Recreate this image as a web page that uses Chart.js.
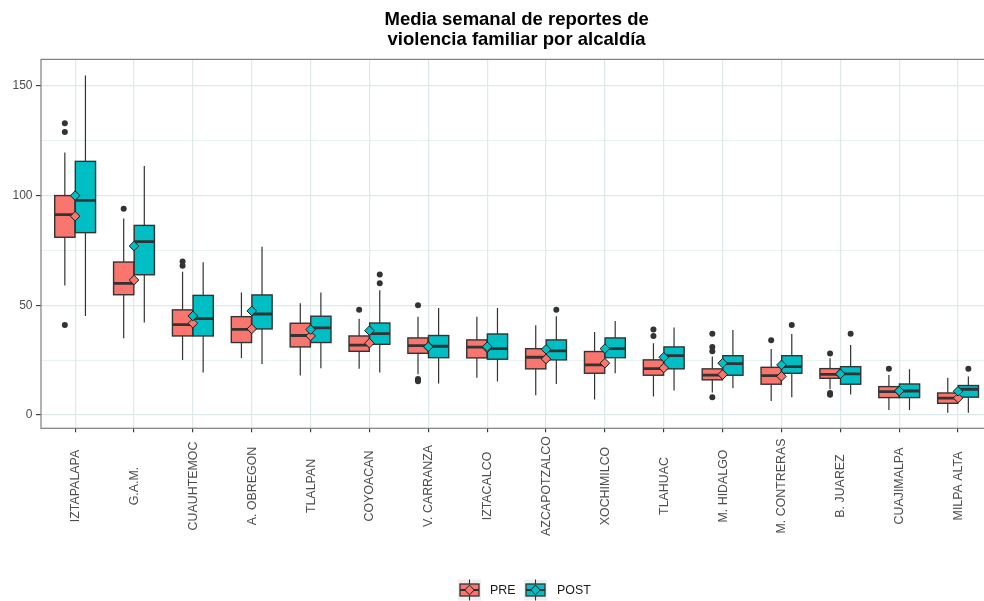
<!DOCTYPE html>
<html>
<head>
<meta charset="utf-8">
<script src="https://cdn.jsdelivr.net/npm/chart.js@4.4.1/dist/chart.umd.min.js"></script>
<style>
  html, body { margin: 0; padding: 0; background: #ffffff; overflow: hidden; }
  #wrap { width: 998px; height: 601px; }
</style>
</head>
<body>
<div id="wrap"><canvas id="boxChart" width="998" height="601"></canvas></div>
<script>
const categories = ['IZTAPALAPA', 'G.A.M.', 'CUAUHTEMOC', 'A. OBREGON', 'TLALPAN', 'COYOACAN',
  'V. CARRANZA', 'IZTACALCO', 'AZCAPOTZALCO', 'XOCHIMILCO', 'TLAHUAC', 'M. HIDALGO',
  'M. CONTRERAS', 'B. JUAREZ', 'CUAJIMALPA', 'MILPA ALTA'];

// PRE period: whisker ends, quartiles, median, mean, outliers
const preLow    = [59, 35, 25, 26, 18, 21, 18.5, 17, 9, 7, 8.4, 10.2, 6.4, 11.7, 2.3, 1];
const preQ1     = [81, 54.8, 36, 33, 31, 29, 28.1, 26, 21, 19, 18.1, 16, 14, 16.7, 7.9, 5.3];
const preMedian = [91.3, 60, 41.2, 39, 36.2, 31.8, 31.6, 30.9, 26.3, 22.8, 21.1, 18.1, 17.9, 18.5, 10.6, 7.7];
const preQ3     = [100, 69.7, 47.9, 44.8, 41.8, 36, 35.1, 34.2, 30.2, 28.9, 25.1, 21, 21.7, 21.1, 12.9, 10];
const preHigh   = [119.6, 89.6, 65.3, 55.8, 50.9, 43.9, 44.8, 44.8, 40.9, 37.8, 32.7, 26.6, 30, 25.8, 18.2, 16.9];
const preMean   = [90.6, 61.5, 41.8, 39.2, 36, 32.7, 31.1, 30.6, 25.5, 23.6, 21.4, 18.4, 17.6, 18.7, 10.9, 7.7];
const preOutliers = [[133, 129, 41], [94], [70, 68], [], [], [48], [50, 16.4, 15.9, 15.4], [], [], [],
  [39, 36], [37, 31, 29, 8], [34], [28, 10, 9.2], [21], []];

// POST period
const postLow    = [45.1, 42.1, 19.3, 23.2, 21.3, 19.3, 14.3, 15.2, 14.1, 19, 11.1, 12.2, 8.1, 9.3, 2.3, 1];
const postQ1     = [83.1, 63.9, 36, 39.2, 33, 32.2, 26.1, 25.4, 25.1, 26.1, 21, 18.1, 19, 14, 7.9, 8.1];
const postMedian = [97.8, 79, 43.9, 46, 39.7, 37.1, 31.3, 30.2, 29.2, 30.2, 27, 23.4, 22, 18.7, 10.9, 11.7];
const postQ3     = [115.6, 86.4, 54.5, 54.7, 45, 41.9, 36.2, 36.9, 34.2, 35.1, 31, 27, 27, 22, 14.1, 13.4];
const postHigh   = [154.7, 113.5, 69.6, 76.7, 55.8, 56.8, 48.8, 48.8, 45, 42.8, 39.8, 38.7, 36.9, 31.9, 20.8, 17.5];
const postMean   = [100, 77, 45.1, 47.4, 38.9, 38.4, 31.1, 31.1, 29.9, 30.2, 26.3, 23.6, 22.8, 18.7, 10.9, 10.8];
const postOutliers = [[], [], [], [], [], [64, 60], [], [], [48], [], [], [], [41], [37], [], [21]];

const yTicks = [0, 25, 50, 75, 100, 125, 150];
const seriesNames = ['PRE', 'POST'];

const PRE_COLOR = '#F8766D';
const POST_COLOR = '#00BFC4';
const INK = '#333333';
const GRID = '#dceae9';
const DODGE = 0.175;   // shift of each box from the category centre
const HALF = 0.172;    // half box width, in category units

const groups = [
  { name: 'PRE', color: PRE_COLOR, shift: -DODGE, low: preLow, q1: preQ1, med: preMedian, q3: preQ3, high: preHigh, out: preOutliers },
  { name: 'POST', color: POST_COLOR, shift: DODGE, low: postLow, q1: postQ1, med: postMedian, q3: postQ3, high: postHigh, out: postOutliers }
];

Chart.defaults.font.family = '"Liberation Sans", Arial, sans-serif';

function seg(ctx, x1, y1, x2, y2) {
  ctx.beginPath();
  ctx.moveTo(x1, y1);
  ctx.lineTo(x2, y2);
  ctx.stroke();
}

function drawKey(ctx, cx, cy, fill) {
  ctx.fillStyle = '#eeeeee';
  ctx.fillRect(cx - 11.5, cy - 10.5, 23, 21);
  ctx.strokeStyle = INK;
  ctx.lineWidth = 1.1;
  seg(ctx, cx, cy - 10.5, cx, cy - 6);
  seg(ctx, cx, cy + 6, cx, cy + 10.5);
  ctx.fillStyle = fill;
  ctx.fillRect(cx - 9.5, cy - 6, 19, 12);
  ctx.lineWidth = 1.3;
  ctx.strokeRect(cx - 9.5, cy - 6, 19, 12);
  ctx.lineWidth = 2;
  seg(ctx, cx - 9.5, cy, cx + 9.5, cy);
  ctx.beginPath();
  ctx.moveTo(cx, cy - 4.8);
  ctx.lineTo(cx + 4.8, cy);
  ctx.lineTo(cx, cy + 4.8);
  ctx.lineTo(cx - 4.8, cy);
  ctx.closePath();
  ctx.fillStyle = fill;
  ctx.fill();
  ctx.strokeStyle = '#1a1a1a';
  ctx.lineWidth = 1;
  ctx.stroke();
}

const boxPlugin = {
  id: 'boxes',
  beforeDatasetsDraw(chart) {
    const { ctx, chartArea, scales: { x, y } } = chart;
    ctx.save();
    ctx.beginPath();
    ctx.rect(chartArea.left, chartArea.top, chartArea.width, chartArea.height);
    ctx.clip();
    groups.forEach(g => {
      categories.forEach((_, i) => {
        const cx = x.getPixelForValue(i + g.shift);
        const l = x.getPixelForValue(i + g.shift - HALF);
        const r = x.getPixelForValue(i + g.shift + HALF);
        const yLow = y.getPixelForValue(g.low[i]);
        const yQ1 = y.getPixelForValue(g.q1[i]);
        const yMed = y.getPixelForValue(g.med[i]);
        const yQ3 = y.getPixelForValue(g.q3[i]);
        const yHigh = y.getPixelForValue(g.high[i]);
        ctx.strokeStyle = INK;
        ctx.lineWidth = 1.2;
        seg(ctx, cx, yQ1, cx, yLow);
        seg(ctx, cx, yQ3, cx, yHigh);
        ctx.fillStyle = g.color;
        ctx.fillRect(l, yQ3, r - l, yQ1 - yQ3);
        ctx.lineWidth = 1.4;
        ctx.strokeRect(l, yQ3, r - l, yQ1 - yQ3);
        ctx.lineWidth = 2.8;
        seg(ctx, l, yMed, r, yMed);
      });
    });
    ctx.restore();
  },
  afterDraw(chart) {
    const { ctx, chartArea, scales: { x } } = chart;
    ctx.save();
    // panel border
    ctx.strokeStyle = '#7f7f7f';
    ctx.lineWidth = 1.2;
    ctx.strokeRect(chartArea.left, chartArea.top, chartArea.width, chartArea.height);

    // category labels, vertical and centred under each tick
    ctx.fillStyle = '#4d4d4d';
    ctx.font = '12.4px "Liberation Sans", Arial, sans-serif';
    ctx.textAlign = 'center';
    ctx.textBaseline = 'middle';
    categories.forEach((c, i) => {
      ctx.save();
      ctx.translate(x.getPixelForValue(i) + 0.5, 486);
      ctx.rotate(-Math.PI / 2);
      ctx.fillText(c, 0, 0);
      ctx.restore();
    });

    // legend
    const keyX = [469.5, 535.5];
    const textX = [490, 557];
    groups.forEach((g, k) => {
      drawKey(ctx, keyX[k], 590, g.color);
      ctx.fillStyle = '#1a1a1a';
      ctx.font = '12.4px "Liberation Sans", Arial, sans-serif';
      ctx.textAlign = 'left';
      ctx.textBaseline = 'middle';
      ctx.fillText(seriesNames[k], textX[k], 591);
    });
    ctx.restore();
  }
};

const meanPoints = vals => vals.map((v, i) => ({ x: i, y: v }));
const outlierPoints = groups.flatMap(g =>
  g.out.flatMap((list, i) => list.map(v => ({ x: i + g.shift, y: v }))));

new Chart(document.getElementById('boxChart'), {
  type: 'scatter',
  data: {
    datasets: [
      {
        label: 'POST media',
        data: meanPoints(postMean),
        pointStyle: 'rectRot',
        radius: 4.8,
        backgroundColor: POST_COLOR,
        borderColor: '#1a1a1a',
        borderWidth: 1
      },
      {
        label: 'PRE media',
        data: meanPoints(preMean),
        pointStyle: 'rectRot',
        radius: 4.8,
        backgroundColor: PRE_COLOR,
        borderColor: '#1a1a1a',
        borderWidth: 1
      },
      {
        label: 'atípicos',
        data: outlierPoints,
        pointStyle: 'circle',
        radius: 3,
        backgroundColor: INK,
        borderWidth: 0
      }
    ]
  },
  options: {
    responsive: false,
    animation: false,
    layout: { padding: 0 },
    plugins: {
      legend: { display: false },
      tooltip: { enabled: false },
      title: {
        display: true,
        fullSize: false,
        text: ['Media semanal de reportes de', 'violencia familiar por alcaldía'],
        color: '#000000',
        font: { size: 18.5, weight: 'bold', lineHeight: 1.11 },
        padding: { top: 9.5, bottom: 8.8 }
      }
    },
    scales: {
      x: {
        type: 'linear',
        min: -0.58,
        max: 15.58,
        afterBuildTicks: s => { s.ticks = categories.map((_, i) => ({ value: i })); },
        afterFit: s => { s.height = 172.7; },
        ticks: { display: false },
        grid: { color: GRID, lineWidth: 1.2, tickColor: INK, tickLength: 4, tickWidth: 1.1 },
        border: { display: false }
      },
      y: {
        min: -6.1,
        max: 162.1,
        afterBuildTicks: s => { s.ticks = yTicks.map(v => ({ value: v })); },
        afterFit: s => { s.width = 41; },
        ticks: {
          autoSkip: false,
          color: '#4d4d4d',
          font: { size: 12 },
          padding: 3.5,
          callback: v => (v % 50 === 0 ? v : '')
        },
        grid: {
          color: GRID,
          lineWidth: c => (c.tick && c.tick.value % 50 === 0 ? 1.2 : 0.6),
          tickColor: c => (c.tick && c.tick.value % 50 === 0 ? INK : 'rgba(0,0,0,0)'),
          tickLength: 5,
          tickWidth: 1.1
        },
        border: { display: false }
      }
    }
  },
  plugins: [boxPlugin]
});
</script>
</body>
</html>
